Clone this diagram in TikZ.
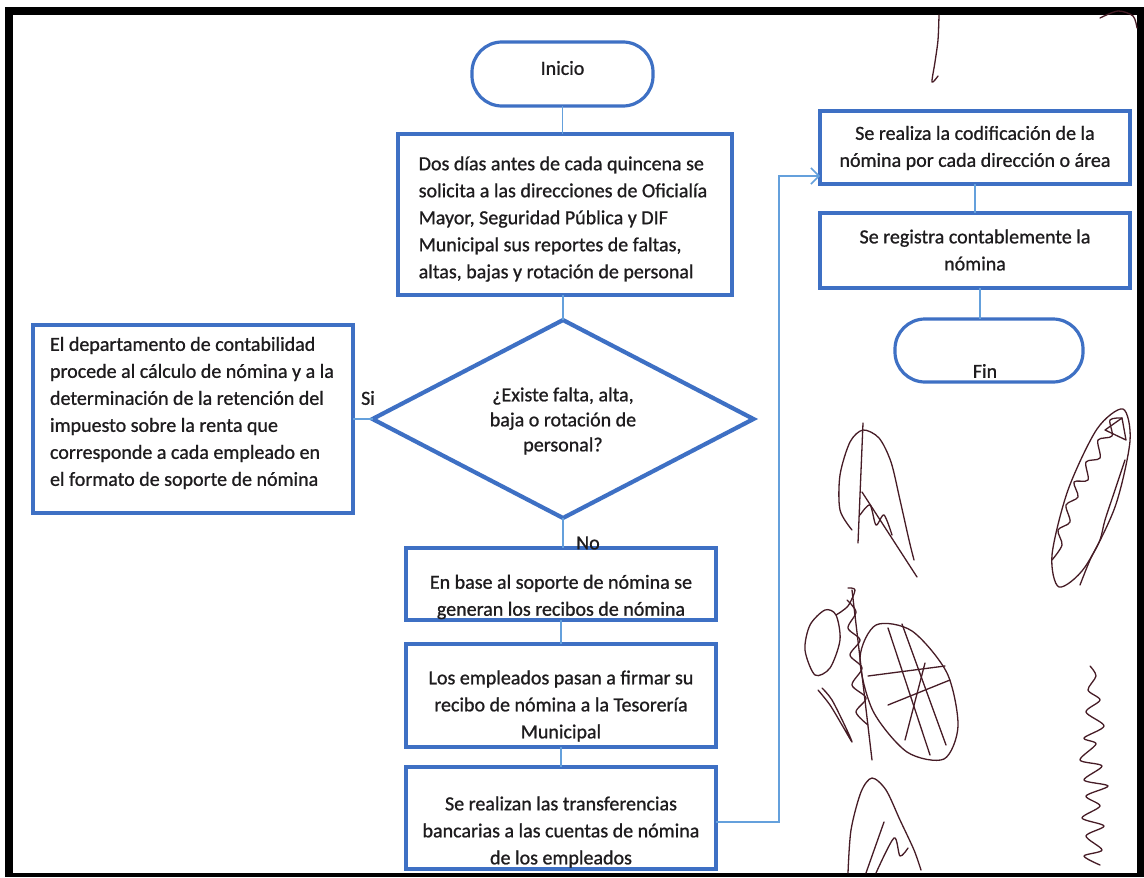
\documentclass[tikz,border=0pt]{standalone}
\usepackage{fontspec}
\setmainfont{Carlito}[BoldFont=Carlito, BoldFeatures={FakeBold=0.9}]
\usetikzlibrary{arrows.meta,shapes.geometric}
\definecolor{boxblue}{RGB}{62,112,196}
\definecolor{linkblue}{RGB}{100,160,220}
\definecolor{inkgray}{RGB}{30,28,30}
\definecolor{sigink}{RGB}{70,28,38}
\begin{document}
\begin{tikzpicture}[x=1pt,y=-1pt,
  stepbox/.style={draw=boxblue, line width=3.8pt, fill=white, inner sep=0pt, outer sep=0pt},
  term/.style={draw=boxblue, line width=3.2pt, rounded corners=30pt, inner sep=0pt, outer sep=0pt},
  decision/.style={draw=boxblue, line width=4.2pt, diamond, aspect=1.92, inner sep=0pt, outer sep=0pt},
  txt/.style={text=inkgray, font=\fontsize{20}{27}\selectfont\bfseries, inner sep=0pt},
  link/.style={draw=linkblue, line width=1.5pt},
  sig/.style={draw=sigink, line width=1.3pt, line cap=round, line join=round}]
\useasboundingbox (0,0) rectangle (1144,878);
\fill[white] (0,0) rectangle (1144,878);
% frame
\fill[black] (5,7) rectangle (1144,877);
\fill[white] (13,15) rectangle (1137,873);

% shapes
\node[term, minimum width=181pt, minimum height=64pt] (inicio) at (562.5,74) {};
\node[stepbox, minimum width=334pt, minimum height=161pt] (b1) at (565,214.5) {};
\node[decision, minimum width=381pt, minimum height=198pt] (dec) at (563,419) {};
\node[stepbox, minimum width=320pt, minimum height=188pt] (b0) at (193,419) {};
\node[stepbox, minimum width=310pt, minimum height=72pt] (b2) at (561,584) {};
\node[stepbox, minimum width=310pt, minimum height=103pt] (b3) at (561,695.5) {};
\node[stepbox, minimum width=310pt, minimum height=102pt] (b4) at (561,818) {};
\node[stepbox, minimum width=310pt, minimum height=73pt] (b5) at (975,147.5) {};
\node[stepbox, minimum width=310pt, minimum height=75pt] (b6) at (975,250.5) {};
\node[term, minimum width=188pt, minimum height=63pt] (fin) at (989,350.5) {};

% texts
\node[txt] (tinicio) at (562.5,68) {Inicio};
\node[txt, align=left] (t1) at (563,219) {Dos días antes de cada quincena se\\solicita a las direcciones de Oficialía\\Mayor, Seguridad Pública y DIF\\Municipal sus reportes de faltas,\\altas, bajas y rotación de personal};
\node[txt, align=center, font=\fontsize{20}{25}\selectfont\bfseries] (tdec) at (563,421) {¿Existe falta, alta,\\baja o rotación de\\personal?};
\node[txt, align=left] (t0) at (192,413) {El departamento de contabilidad\\procede al cálculo de nómina y a la\\determinación de la retención del\\impuesto sobre la renta que\\corresponde a cada empleado en\\el formato de soporte de nómina};
\node[txt] (si) at (368,398) {Si};
\node[txt] (no) at (588,543) {No};
\node[txt, align=center] (t2) at (561,597) {En base al soporte de nómina se\\generan los recibos de nómina};
\node[txt, align=center] (t3) at (561,706) {Los empleados pasan a firmar su\\recibo de nómina a la Tesorería\\Municipal};
\node[txt, align=center] (t4) at (561,832) {Se realizan las transferencias\\bancarias a las cuentas de nómina\\de los empleados};
\node[txt, align=center] (t5) at (975,148) {Se realiza la codificación de la\\nómina por cada dirección o área};
\node[txt, align=center] (t6) at (975,250) {Se registra contablemente la\\nómina};
\node[txt] (tfin) at (985,371) {Fin};

% connectors
\draw[link] (inicio.south) -- (inicio.south |- b1.north);
\draw[link] (dec.north |- b1.south) -- (dec.north);
\draw[link] (b0.east) -- (dec.west);
\draw[link] (dec.south) -- (dec.south |- b2.north);
\draw[link] (b2.south) -- (b3.north);
\draw[link] (b3.south) -- (b4.north);
\coordinate (r1) at (779,822);
\coordinate (r2) at (779,176);
\draw[link, -{Straight Barb[length=8pt,width=16pt]}] (b4.east |- r1) -- (r1) -- (r2) -- (b5.west |- r2);
\draw[link] (b5.south) -- (b6.north);
\coordinate (fx) at (980,0);
\draw[link] (b6.south -| fx) -- (fin.north -| fx);

% signatures (approximate handwriting)
\draw[sig] plot[smooth] coordinates {(939,15) (938,40) (935,62) (932,82) (938,76)};
\draw[sig] plot[smooth] coordinates {(1100,18) (1118,11) (1133,16) (1137,28)};
% sig A
\draw[sig] plot[smooth] coordinates {(852,530) (840,510) (840,475) (850,442) (863,430) (879,438) (891,462) (900,500) (909,540) (914,560)};
\draw[sig] (863,423) -- (858,543);
\draw[sig] (862,492) -- (917,577);
\draw[sig] plot[smooth] coordinates {(860,515) (870,505) (876,525) (884,515) (892,535)};
% sig B
\draw[sig] plot[smooth cycle] coordinates {(1123,409) (1130,441) (1115,507) (1085,567) (1059,587) (1052,555) (1068,490) (1097,429)};
\draw[sig] plot[smooth] coordinates {(1052,560) (1062,545) (1058,530) (1070,522) (1066,505) (1078,497) (1074,482) (1088,480) (1086,462) (1100,458) (1098,440) (1112,436) (1110,420) (1122,418)};
\draw[sig] plot[smooth] coordinates {(1080,585) (1090,560) (1100,540) (1105,520) (1115,490) (1125,460)};
\draw[sig] (1105,430) -- (1122,418) -- (1126,440) -- cycle;
% sig C
\draw[sig] plot[smooth cycle] coordinates {(825,610) (810,625) (805,650) (815,675) (830,668) (840,640) (836,615)};
\draw[sig] (852,590) -- (872,760);
\draw[sig] plot[smooth] coordinates {(847,600) (856,612) (848,628) (860,640) (850,655) (862,668) (852,685) (866,698) (856,712) (868,725)};
\draw[sig] plot[smooth] coordinates {(818,690) (830,705) (842,725) (852,742) (846,728) (832,700) (822,688)};
\draw[sig] plot[smooth] coordinates {(836,615) (848,606) (855,590) (848,588)};
% sig D
\draw[sig] plot[smooth cycle] coordinates {(944,759) (907,752) (873,711) (860,658) (876,625) (912,631) (947,673) (958,726)};
\draw[sig] (888,628) -- (930,755);
\draw[sig] (902,624) -- (946,745);
\draw[sig] (868,676) -- (945,666);
\draw[sig] (888,705) -- (950,680);
\draw[sig] (925,663) -- (905,740);
% sig E
\draw[sig] plot[smooth] coordinates {(1100,865) (1084,856) (1102,850) (1086,836) (1104,826) (1082,818) (1100,806) (1086,796) (1108,786) (1084,780) (1102,766) (1080,760) (1096,744) (1084,738) (1104,726) (1086,712) (1100,700) (1088,690) (1096,676) (1090,666)};
% sig F
\draw[sig] plot[smooth] coordinates {(848,873) (851,830) (861,792) (872,778) (886,790) (900,820) (914,850) (921,870)};
\draw[sig] (866,873) -- (884,822);
\draw[sig] plot[smooth] coordinates {(876,873) (894,838) (900,856) (908,848)};
\end{tikzpicture}
\end{document}
